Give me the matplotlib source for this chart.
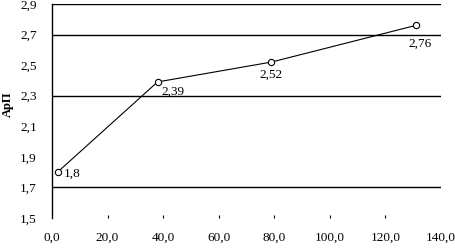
import matplotlib
matplotlib.use("Agg")
import matplotlib.pyplot as plt

x_vals = [2, 38, 79, 131]
y_vals = [1.8, 2.39, 2.52, 2.76]
point_labels = ["1,8", "2,39", "2,52", "2,76"]
x_ticks = [0, 20, 40, 60, 80, 100, 120, 140]
x_tick_labels = ["0,0", "20,0", "40,0", "60,0", "80,0", "100,0", "120,0", "140,0"]
y_ticks = [1.5, 1.7, 1.9, 2.1, 2.3, 2.5, 2.7, 2.9]
y_tick_labels = ["1,5", "1,7", "1,9", "2,1", "2,3", "2,5", "2,7", "2,9"]
grid_levels = [1.7, 2.3, 2.7, 2.9]
y_label = "АрП"

plt.rcParams['font.family'] = ['Liberation Serif', 'DejaVu Serif']

fig = plt.figure(figsize=(4.56, 2.48), dpi=100)
ax = fig.add_axes([0.114, 0.121, 0.853, 0.863])

for g in grid_levels:
    ax.axhline(g, color='black', lw=1.0, zorder=1)

ax.plot(x_vals, y_vals, color='black', lw=0.8, marker='o', ms=4.5,
        mfc='white', mec='black', mew=0.8, zorder=3)

offsets = [(4.5, -1.5, 'left', 'center'), (3, -3, 'left', 'top'),
           (0, -5, 'center', 'top'), (3, -9, 'center', 'top')]
for xv, yv, lab, (dx, dy, ha, va) in zip(x_vals, y_vals, point_labels, offsets):
    ax.annotate(lab, (xv, yv), xytext=(dx, dy), textcoords='offset points',
                ha=ha, va=va, fontsize=9.5)

ax.set_xlim(0, 140)
ax.set_ylim(1.5, 2.9)
ax.set_xticks(x_ticks)
ax.set_xticklabels(x_tick_labels, fontsize=9.5)
ax.set_yticks(y_ticks)
ax.set_yticklabels(y_tick_labels, fontsize=9.5)
ax.tick_params(axis='y', length=0, pad=11)
ax.tick_params(axis='x', length=2.5, direction='in', width=0.8, pad=10)
ticks = ax.xaxis.get_major_ticks()
ticks[0].tick1line.set_visible(False)
ticks[-1].tick1line.set_visible(False)

for s in ['top', 'right', 'bottom']:
    ax.spines[s].set_visible(False)
ax.spines['left'].set_linewidth(1.0)

ax.set_ylabel(y_label, fontsize=9, fontweight='bold')
ax.yaxis.set_label_coords(-0.098, 0.53)

fig.savefig("out.png", dpi=100)
